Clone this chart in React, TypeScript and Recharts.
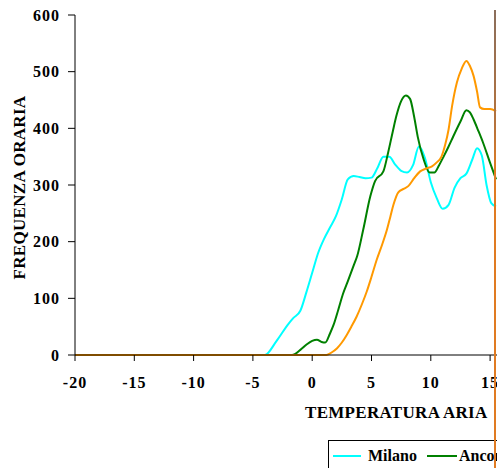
import { LineChart, Line, XAxis, YAxis } from 'recharts';

// temperature (°C) / hourly frequency
const milanoTemp = [-20, -4, -3, -2, -1.6, -1, -0.5, 0, 0.5, 1, 1.5, 2, 2.5, 3, 3.5, 4, 4.5, 5, 5.5, 6, 6.5, 7, 7.5, 8, 8.5, 9, 9.5, 10, 10.5, 11, 11.5, 12, 12.5, 13, 13.5, 13.9, 14.3, 14.7, 15.1, 15.5];
const milanoFreq = [0, 0, 25, 55, 65, 78, 110, 145, 180, 205, 225, 245, 275, 310, 316, 314, 312, 313, 330, 350, 350, 336, 325, 322, 335, 368, 348, 305, 277, 258, 265, 295, 312, 320, 345, 365, 352, 300, 268, 262];

const anconaTemp = [-20, -1.7, -1, -0.5, 0, 0.4, 0.8, 1.1, 1.5, 1.8, 2.2, 2.6, 3, 3.5, 3.8, 4.3, 4.9, 5.3, 6, 6.4, 6.8, 7.1, 7.5, 7.9, 8.25, 8.6, 8.9, 9.4, 9.9, 10.3, 10.7, 11.1, 11.5, 11.9, 12.5, 13, 13.3, 13.6, 14, 14.4, 15, 15.5];
const anconaFreq = [0, 0, 9, 18, 25, 27, 23, 22, 38, 53, 80, 108, 130, 158, 175, 221, 280, 307, 324, 357, 395, 422, 448, 458, 452, 420, 385, 345, 322, 322, 335, 351, 368, 386, 412, 432, 428, 416, 396, 375, 339, 310];

const terzaTemp = [-20, 1.2, 1.6, 2.1, 2.5, 2.9, 3.3, 3.75, 4.2, 4.6, 5, 5.44, 5.9, 6.3, 6.6, 6.85, 7.26, 7.7, 8.1, 8.6, 9.1, 9.6, 10.1, 10.5, 10.9, 11.2, 11.5, 11.8, 12.2, 12.6, 13, 13.3, 13.6, 13.9, 14.15, 14.5, 15, 15.5];
const terzaFreq = [0, 0, 4, 12, 22, 35, 50, 68, 90, 112, 138, 168, 195, 221, 245, 265, 287, 293, 298, 312, 324, 329, 333, 340, 350, 370, 398, 440, 481, 505, 519, 510, 493, 465, 437, 434, 434, 430];

const xTicks = [-20, -15, -10, -5, 0, 5, 10, 15, 20];
const yTicks = [0, 100, 200, 300, 400, 500, 600];

const toRows = (t: number[], f: number[]) => t.map((v, i) => ({ t: v, f: f[i] }));

const serif = 'Liberation Serif, Times New Roman, serif';
const tickStyle = { fill: '#000', fontSize: 16, fontWeight: 'bold', fontFamily: serif, letterSpacing: 1 };

export default function App() {
  return (
    <div style={{ position: 'fixed', left: 0, top: 0, width: 497, height: 468, overflow: 'hidden', background: '#fff' }}>
      <LineChart width={560} height={440} margin={{ top: 15, right: 10.6, left: 15, bottom: 45 }}>
        <XAxis
          dataKey="t"
          type="number"
          domain={[-20, 20]}
          ticks={xTicks}
          allowDataOverflow
          tick={tickStyle}
          tickSize={6}
          tickMargin={16}
          height={40}
          axisLine={{ stroke: '#000' }}
          tickLine={{ stroke: '#000' }}
        />
        <YAxis
          type="number"
          domain={[0, 600]}
          ticks={yTicks}
          tick={tickStyle}
          tickSize={7}
          tickMargin={8}
          width={60}
          axisLine={{ stroke: '#000' }}
          tickLine={{ stroke: '#000' }}
        />
        <Line data={toRows(milanoTemp, milanoFreq)} dataKey="f" name="Milano" type="monotone" stroke="#00ffff" strokeWidth={2} dot={false} isAnimationActive={false} />
        <Line data={toRows(anconaTemp, anconaFreq)} dataKey="f" name="Ancona" type="monotone" stroke="#008000" strokeWidth={2} dot={false} isAnimationActive={false} />
        <Line data={toRows(terzaTemp, terzaFreq)} dataKey="f" name="serie3" type="monotone" stroke="#ff9900" strokeWidth={2} dot={false} isAnimationActive={false} />
      </LineChart>

      <div style={{ position: 'absolute', left: -81, top: 178.5, width: 200, lineHeight: '17px', textAlign: 'center', transform: 'rotate(-90deg)', fontFamily: serif, fontWeight: 'bold', fontSize: 17, letterSpacing: 0.3, whiteSpace: 'nowrap' }}>
        FREQUENZA ORARIA
      </div>
      <div style={{ position: 'absolute', left: 305, top: 403.7, lineHeight: '17px', fontFamily: serif, fontWeight: 'bold', fontSize: 17, letterSpacing: 0.3, whiteSpace: 'nowrap' }}>
        TEMPERATURA ARIA
      </div>

      <div style={{ position: 'absolute', left: 328, top: 440, width: 300, height: 60, border: '1px solid #000', fontFamily: serif, fontWeight: 'bold', fontSize: 16, whiteSpace: 'nowrap' }}>
        <div style={{ position: 'absolute', left: 4, top: 14, width: 28, height: 2, background: '#00ffff' }} />
        <div style={{ position: 'absolute', left: 39, top: 7, lineHeight: '16px' }}>Milano</div>
        <div style={{ position: 'absolute', left: 98, top: 14, width: 30, height: 2, background: '#008000' }} />
        <div style={{ position: 'absolute', left: 130, top: 7, lineHeight: '16px' }}>Ancona</div>
      </div>

      <div style={{ position: 'absolute', left: 494, top: 10, width: 2, height: 458, background: 'linear-gradient(#8a6e5c, #b5723c 25%, #e07b22 35%, #e07b22)' }} />
    </div>
  );
}
